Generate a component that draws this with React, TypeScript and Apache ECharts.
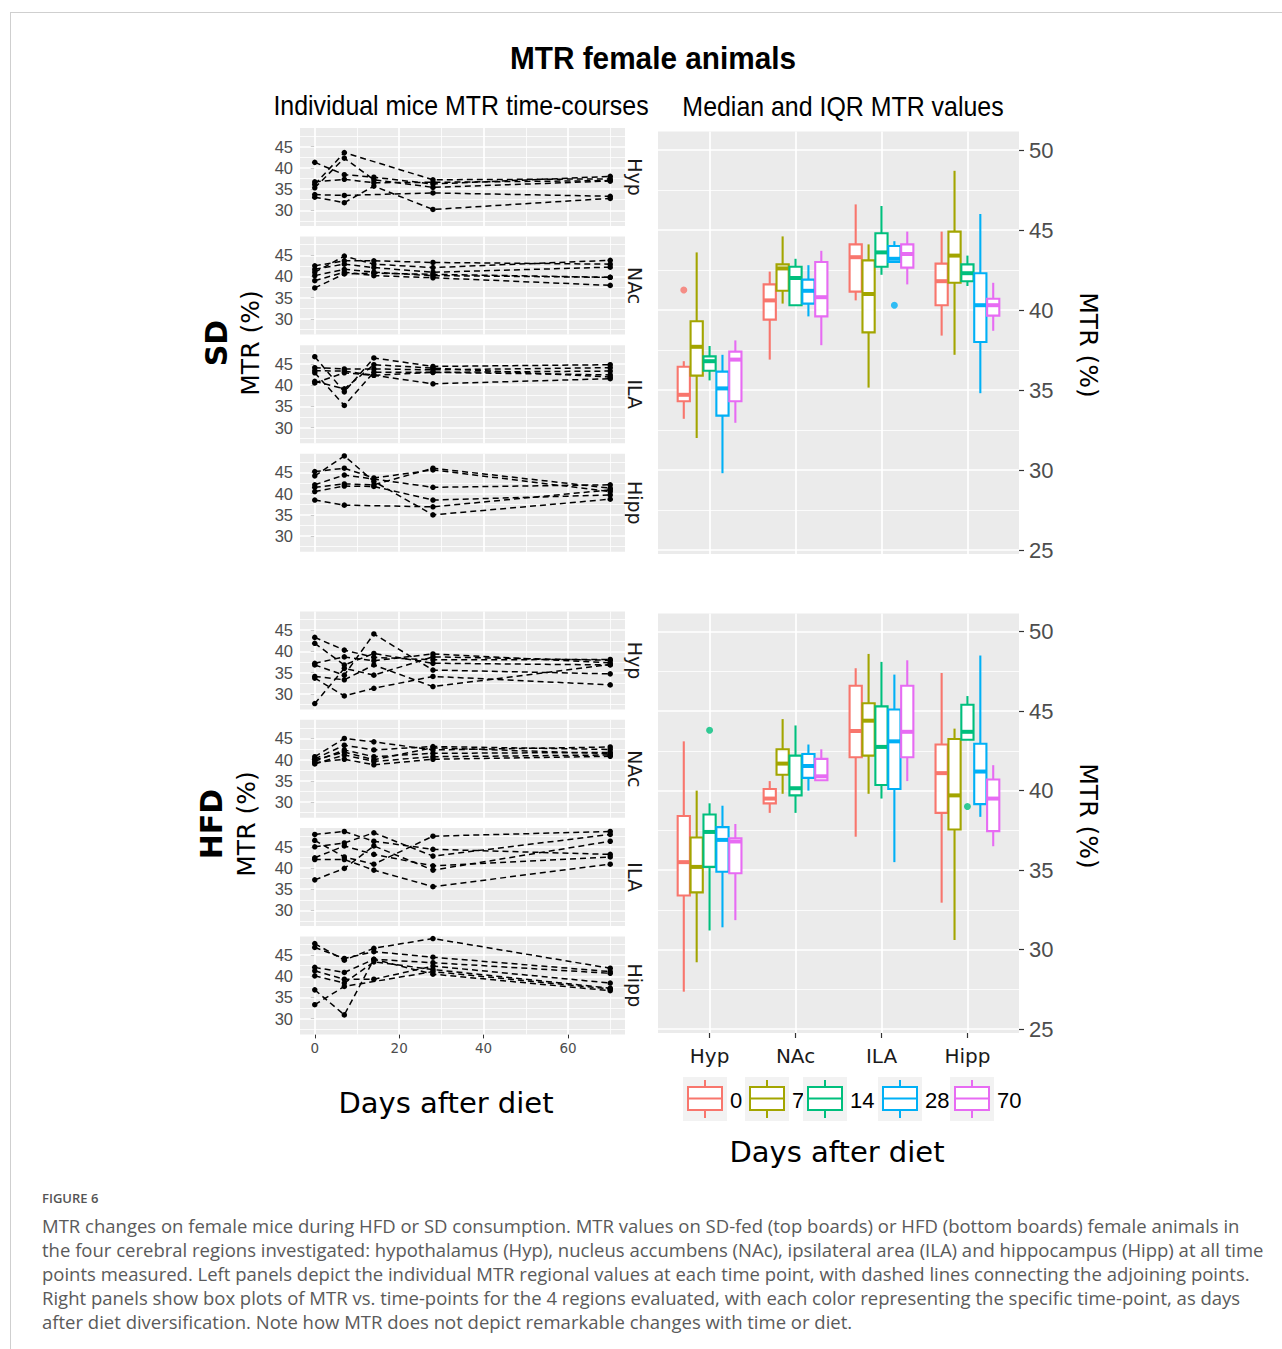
import React, { useEffect, useRef } from 'react';
import * as echarts from 'echarts';

// ---------- data ----------
const DAYS = [0, 7, 14, 28, 70];
const DAY_LABELS = ['0', '7', '14', '28', '70'];
const REGIONS = ['Hyp', 'NAc', 'ILA', 'Hipp'];
const COLORS = ['#F8766D', '#A3A500', '#00BF7D', '#00B0F6', '#E76BF3'];

const LEFT_Y_TICKS = [30, 35, 40, 45];
const LEFT_Y_MINOR = [27.5, 32.5, 37.5, 42.5, 47.5];
const LEFT_X_TICKS = [0, 20, 40, 60];
const LEFT_X_MINOR = [10, 30, 50, 70];
const RIGHT_Y_TICKS = [25, 30, 35, 40, 45, 50];
const RIGHT_Y_MINOR = [27.5, 32.5, 37.5, 42.5, 47.5];
const RIGHT_X_TICKS = [1, 2, 3, 4];

// individual mice, values at days 0,7,14,28,70 (null = not measured)
const SD_HYP = [
  [41.3, 38.4, 37.8, 36.2, 38.0],
  [36.1, 43.6, null, 37.2, 37.4],
  [35.3, 42.3, 37.2, 35.4, 36.9],
  [33.7, 33.5, null, 34.1, 33.3],
  [33.1, 31.8, 35.7, 30.2, 32.8],
  [36.7, 37.3, 36.5, 36.6, 37.0],
];
const SD_NAC = [
  [41.0, 44.8, 42.9, 42.1, 43.8],
  [42.5, 43.7, 43.7, 43.3, 42.9],
  [41.7, 42.9, 42.1, 41.0, 42.2],
  [40.2, 41.7, 41.0, 40.2, 39.8],
  [39.0, 41.0, 40.2, 39.7, 37.9],
  [37.3, 40.6, 40.8, 40.5, 39.8],
];
const SD_ILA = [
  [46.7, 38.4, 46.4, 44.4, 44.8],
  [44.1, 43.8, 43.8, 43.6, 44.1],
  [43.4, 43.3, 42.3, 43.0, 43.3],
  [42.9, 35.2, 43.0, 43.0, 42.4],
  [40.9, 39.1, 44.8, 44.0, 41.9],
  [40.5, 42.9, 42.3, 40.3, 41.5],
];
const SD_HIPP = [
  [44.2, 48.9, 42.9, 35.0, 38.7],
  [45.2, 46.0, 43.7, 45.6, 40.5],
  [42.1, 44.4, null, 41.5, 42.1],
  [41.5, 42.3, 42.1, 46.0, 41.3],
  [40.5, 41.8, 41.7, 38.5, 39.7],
  [38.5, 37.3, null, 36.9, 40.9],
];
const HFD_HYP = [
  [43.3, 40.3, 38.6, 38.0, 38.1],
  [41.9, 36.8, 39.5, 37.2, 36.8],
  [37.2, 38.7, 37.8, 39.4, 37.3],
  [36.8, 34.4, 44.1, 35.6, 34.7],
  [34.1, 33.3, 36.8, 31.7, 36.9],
  [33.7, 29.5, 31.3, 34.1, 32.1],
  [27.7, 36.0, 34.4, 38.7, 37.9],
];
const HFD_NAC = [
  [40.7, 45.0, 44.2, 42.3, 43.0],
  [40.2, 43.4, 42.3, 43.1, 42.4],
  [39.6, 42.3, 40.7, 41.5, 41.7],
  [39.0, 41.1, 39.6, 40.7, 41.1],
  [39.3, 40.1, 38.8, 40.1, 40.8],
  [40.0, 41.8, 40.0, 42.8, 41.4],
];
const HFD_ILA = [
  [47.9, 48.6, 46.3, 44.4, 43.2],
  [46.5, 42.6, 40.9, 47.5, 48.6],
  [45.0, 45.9, 48.3, 42.8, 47.9],
  [42.4, 45.2, 43.2, 40.5, 42.6],
  [42.0, 42.0, 39.5, 35.6, 40.9],
  [37.2, 39.9, 45.2, 39.5, 46.3],
];
const HFD_HIPP = [
  [47.7, 43.8, 46.6, 48.9, 41.9],
  [46.8, 44.2, 45.8, 44.5, 41.1],
  [42.1, 40.9, 44.0, 43.2, 40.7],
  [41.3, 39.3, 39.3, 42.4, 38.4],
  [40.1, 38.4, 43.4, 41.6, 37.2],
  [36.8, 30.9, 44.0, 40.5, 36.6],
  [33.3, 37.6, null, 41.1, 37.0],
];

// box statistics per region, per day: [lower whisker, Q1, median, Q3, upper whisker]
const SD_BOX_HYP = [
  [33.2, 34.3, 34.7, 36.45, 36.8],
  [32.0, 35.9, 37.7, 39.3, 43.6],
  [35.6, 36.2, 36.8, 37.1, 37.75],
  [29.8, 33.4, 35.1, 36.15, 37.2],
  [32.95, 34.3, 36.9, 37.4, 38.1],
];
const SD_BOX_NAC = [
  [36.9, 39.4, 40.6, 41.6, 42.4],
  [40.4, 41.2, 42.6, 42.85, 44.6],
  [40.3, 40.3, 42.0, 42.7, 43.2],
  [39.6, 40.4, 41.2, 41.9, 42.8],
  [37.8, 39.6, 40.8, 43.0, 43.7],
];
const SD_BOX_ILA = [
  [40.6, 41.15, 43.3, 44.1, 46.6],
  [35.15, 38.6, 41.0, 43.1, 44.1],
  [42.2, 42.7, 43.6, 44.8, 46.5],
  [43.0, 43.0, 43.2, 44.0, 44.3],
  [41.6, 42.65, 43.5, 44.1, 44.9],
];
const SD_BOX_HIPP = [
  [38.4, 40.3, 41.8, 42.9, 44.9],
  [37.2, 41.7, 43.4, 44.9, 48.7],
  [41.5, 41.8, 42.3, 42.85, 43.4],
  [34.8, 38.0, 40.3, 42.3, 46.0],
  [38.7, 39.65, 40.3, 40.7, 41.7],
];
const HFD_BOX_HYP = [
  [27.35, 33.4, 35.5, 38.4, 43.1],
  [29.2, 33.6, 35.2, 37.05, 40.0],
  [31.2, 35.2, 37.4, 38.5, 39.2],
  [31.4, 34.9, 36.9, 37.7, 39.05],
  [31.85, 34.8, 36.8, 37.0, 37.9],
];
const HFD_BOX_NAC = [
  [38.6, 39.2, 39.5, 40.1, 40.6],
  [39.8, 41.0, 41.7, 42.6, 44.5],
  [38.6, 39.7, 40.15, 42.2, 44.1],
  [40.0, 40.8, 41.55, 42.3, 42.9],
  [40.65, 40.65, 40.9, 42.0, 42.6],
];
const HFD_BOX_ILA = [
  [37.1, 42.1, 43.75, 46.6, 47.7],
  [39.8, 42.2, 44.4, 45.5, 48.6],
  [39.5, 40.35, 42.75, 45.3, 48.1],
  [35.5, 40.1, 43.1, 45.1, 47.3],
  [40.6, 42.1, 43.7, 46.6, 48.2],
];
const HFD_BOX_HIPP = [
  [32.95, 38.6, 41.1, 42.9, 47.4],
  [30.6, 37.55, 39.7, 43.25, 43.9],
  [43.2, 43.2, 43.7, 45.4, 45.95],
  [38.35, 39.15, 41.2, 42.95, 48.5],
  [36.5, 37.45, 39.5, 40.7, 41.6],
];
// outliers: [region index, day index, value]
const SD_OUTLIERS = [[0, 0, 41.25], [2, 3, 40.3]];
const HFD_OUTLIERS = [[0, 2, 43.8], [3, 2, 39.0]];

const CAPTION_LINES = [
  'MTR changes on female mice during HFD or SD consumption. MTR values on SD-fed (top boards) or HFD (bottom boards) female animals in',
  'the four cerebral regions investigated: hypothalamus (Hyp), nucleus accumbens (NAc), ipsilateral area (ILA) and hippocampus (Hipp) at all time',
  'points measured. Left panels depict the individual MTR regional values at each time point, with dashed lines connecting the adjoining points.',
  'Right panels show box plots of MTR vs. time-points for the 4 regions evaluated, with each color representing the specific time-point, as days',
  'after diet diversification. Note how MTR does not depict remarkable changes with time or diet.',
];

// ---------- layout ----------
const W = 1282;
const H = 1349;
const LEFT_PANEL = { left: 300, width: 325, height: 98 };
const SD_TOPS = [128, 236.6, 345.2, 453.8];
const HFD_TOPS = [611.5, 719.8, 828.1, 936.4];
const LEFT_YRANGE = [26.3, 49.4];
const LEFT_XRANGE = [-3.5, 73.5];
const RIGHT_GRIDS = [
  { left: 658, top: 131.6, width: 361, height: 422.4 },
  { left: 658, top: 613.4, width: 361, height: 419.6 },
];
const RIGHT_YRANGE = [24.75, 51.15];
const RIGHT_XRANGE = [0.4, 4.6];
const DODGE = 0.15;

const TICK_COLOR = '#333333';
const LABEL_GRAY = '#4D4D4D';

function gridMarkLine(xMajor: number[], xMinor: number[], yMajor: number[], yMinor: number[]) {
  const data: any[] = [];
  yMinor.forEach((v) => data.push({ yAxis: v, lineStyle: { width: 0.8 } }));
  xMinor.forEach((v) => data.push({ xAxis: v, lineStyle: { width: 0.8 } }));
  yMajor.forEach((v) => data.push({ yAxis: v, lineStyle: { width: 1.7 } }));
  xMajor.forEach((v) => data.push({ xAxis: v, lineStyle: { width: 1.7 } }));
  return {
    silent: true,
    symbol: ['none', 'none'],
    label: { show: false },
    emphasis: { disabled: true },
    lineStyle: { color: '#FFFFFF', type: 'solid', opacity: 1 },
    z: 1,
    animation: false,
    data,
  };
}

function txt(text: string, x: number, y: number, o: any = {}) {
  return {
    type: 'text',
    x,
    y,
    rotation: o.rotation || 0,
    scaleX: o.scaleX || 1,
    silent: true,
    style: {
      text,
      fill: o.fill || '#000000',
      fontSize: o.fontSize || 16,
      fontFamily: o.fontFamily || 'Liberation Sans',
      fontWeight: o.fontWeight || 'normal',
      align: o.align || 'center',
      textAlign: o.align || 'center',
      verticalAlign: 'middle',
      textVerticalAlign: 'middle',
    },
  };
}

function buildOption() {
  const grids: any[] = [];
  const xAxes: any[] = [];
  const yAxes: any[] = [];
  const series: any[] = [];

  const leftPanels = [SD_HYP, SD_NAC, SD_ILA, SD_HIPP, HFD_HYP, HFD_NAC, HFD_ILA, HFD_HIPP];
  const leftTops = [...SD_TOPS, ...HFD_TOPS];

  leftPanels.forEach((mice, g) => {
    const showX = g === 7;
    grids.push({
      left: LEFT_PANEL.left,
      top: leftTops[g],
      width: LEFT_PANEL.width,
      height: LEFT_PANEL.height,
      show: true,
      backgroundColor: '#EBEBEB',
      borderWidth: 0,
    });
    xAxes.push({
      gridIndex: g,
      type: 'value',
      min: LEFT_XRANGE[0],
      max: LEFT_XRANGE[1],
      axisLine: { show: false },
      splitLine: { show: false },
      axisTick: { show: showX, customValues: LEFT_X_TICKS, length: 4, lineStyle: { color: TICK_COLOR, width: 1 } },
      axisLabel: {
        show: showX,
        customValues: LEFT_X_TICKS,
        color: LABEL_GRAY,
        fontSize: 13.5,
        fontFamily: 'DejaVu Sans',
        margin: 7,
      },
    });
    yAxes.push({
      gridIndex: g,
      type: 'value',
      min: LEFT_YRANGE[0],
      max: LEFT_YRANGE[1],
      axisLine: { show: false },
      splitLine: { show: false },
      axisTick: { show: true, customValues: LEFT_Y_TICKS, length: 4, lineStyle: { color: TICK_COLOR, width: 1 } },
      axisLabel: {
        customValues: LEFT_Y_TICKS,
        color: LABEL_GRAY,
        fontSize: 16.5,
        fontFamily: 'Liberation Sans',
        margin: 7,
      },
    });
    series.push({
      type: 'scatter',
      xAxisIndex: g,
      yAxisIndex: g,
      data: [],
      z: 1,
      silent: true,
      markLine: gridMarkLine(LEFT_X_TICKS, LEFT_X_MINOR, LEFT_Y_TICKS, LEFT_Y_MINOR),
    });
    mice.forEach((vals) => {
      const pts = vals
        .map((v, i) => (v === null ? null : [DAYS[i], v]))
        .filter((p) => p !== null);
      series.push({
        type: 'line',
        xAxisIndex: g,
        yAxisIndex: g,
        data: pts,
        z: 3,
        silent: true,
        symbol: 'circle',
        symbolSize: 5.5,
        showSymbol: true,
        itemStyle: { color: '#000000' },
        lineStyle: { color: '#000000', width: 1.5, type: [6, 4] },
      });
    });
  });

  const boxSets = [
    [SD_BOX_HYP, SD_BOX_NAC, SD_BOX_ILA, SD_BOX_HIPP],
    [HFD_BOX_HYP, HFD_BOX_NAC, HFD_BOX_ILA, HFD_BOX_HIPP],
  ];
  const outlierSets = [SD_OUTLIERS, HFD_OUTLIERS];

  boxSets.forEach((regions, k) => {
    const g = 8 + k;
    const showX = k === 1;
    grids.push({ ...RIGHT_GRIDS[k], show: true, backgroundColor: '#EBEBEB', borderWidth: 0 });
    xAxes.push({
      gridIndex: g,
      type: 'value',
      min: RIGHT_XRANGE[0],
      max: RIGHT_XRANGE[1],
      axisLine: { show: false },
      splitLine: { show: false },
      axisTick: { show: showX, customValues: RIGHT_X_TICKS, length: 5, lineStyle: { color: TICK_COLOR, width: 1.2 } },
      axisLabel: {
        show: showX,
        customValues: RIGHT_X_TICKS,
        formatter: (v: number) => REGIONS[Math.round(v) - 1] || '',
        color: '#1A1A1A',
        fontSize: 20,
        fontFamily: 'DejaVu Sans',
        margin: 13,
      },
    });
    yAxes.push({
      gridIndex: g,
      type: 'value',
      position: 'right',
      min: RIGHT_YRANGE[0],
      max: RIGHT_YRANGE[1],
      axisLine: { show: false },
      splitLine: { show: false },
      axisTick: { show: true, customValues: RIGHT_Y_TICKS, length: 5, lineStyle: { color: TICK_COLOR, width: 1.2 } },
      axisLabel: {
        customValues: RIGHT_Y_TICKS,
        color: LABEL_GRAY,
        fontSize: 22,
        fontFamily: 'Liberation Sans',
        margin: 10,
      },
    });
    series.push({
      type: 'scatter',
      xAxisIndex: g,
      yAxisIndex: g,
      data: [],
      z: 1,
      silent: true,
      markLine: gridMarkLine(RIGHT_X_TICKS, [], RIGHT_Y_TICKS, RIGHT_Y_MINOR),
    });
    const boxData: any[] = [];
    regions.forEach((days, r) => {
      days.forEach((b, d) => {
        boxData.push([r + 1 + (d - 2) * DODGE, b[0], b[1], b[2], b[3], b[4], d]);
      });
    });
    series.push({
      type: 'custom',
      xAxisIndex: g,
      yAxisIndex: g,
      z: 3,
      silent: true,
      encode: { x: 0, y: [1, 2, 3, 4, 5] },
      data: boxData,
      renderItem: (params: any, api: any) => {
        const xc = api.value(0);
        const lo = api.value(1);
        const q1 = api.value(2);
        const md = api.value(3);
        const q3 = api.value(4);
        const hi = api.value(5);
        const c = COLORS[api.value(6)];
        const half = DODGE / 2 - 0.004;
        const pL = api.coord([xc - half, q3]);
        const pR = api.coord([xc + half, q1]);
        const pHi = api.coord([xc, hi]);
        const pLo = api.coord([xc, lo]);
        const pMd = api.coord([xc, md]);
        const cx = pHi[0];
        return {
          type: 'group',
          children: [
            { type: 'line', shape: { x1: cx, y1: pHi[1], x2: cx, y2: pL[1] }, style: { stroke: c, lineWidth: 2.1 } },
            { type: 'line', shape: { x1: cx, y1: pR[1], x2: cx, y2: pLo[1] }, style: { stroke: c, lineWidth: 2.1 } },
            {
              type: 'rect',
              shape: { x: pL[0], y: pL[1], width: pR[0] - pL[0], height: pR[1] - pL[1] },
              style: { fill: '#FFFFFF', stroke: c, lineWidth: 2.1 },
            },
            { type: 'line', shape: { x1: pL[0], y1: pMd[1], x2: pR[0], y2: pMd[1] }, style: { stroke: c, lineWidth: 4 } },
          ],
        };
      },
    });
    series.push({
      type: 'scatter',
      xAxisIndex: g,
      yAxisIndex: g,
      z: 4,
      silent: true,
      symbolSize: 7,
      data: outlierSets[k].map((o) => ({
        value: [o[0] + 1 + (o[1] - 2) * DODGE, o[2]],
        itemStyle: { color: COLORS[o[1]] },
      })),
    });
  });

  // ---------- annotations ----------
  const graphics: any[] = [];
  graphics.push({ type: 'line', silent: true, shape: { x1: 10, y1: 12.5, x2: W, y2: 12.5 }, style: { stroke: '#CFCFCF', lineWidth: 1 } });
  graphics.push({ type: 'line', silent: true, shape: { x1: 10.5, y1: 12, x2: 10.5, y2: H }, style: { stroke: '#CFCFCF', lineWidth: 1 } });

  graphics.push(txt('MTR female animals', 653, 58, { fontSize: 32, fontWeight: 'bold', scaleX: 0.93 }));
  graphics.push(txt('Individual mice MTR time-courses', 461, 105, { fontSize: 28, scaleX: 0.89 }));
  graphics.push(txt('Median and IQR MTR values', 843, 106, { fontSize: 28, scaleX: 0.89 }));

  graphics.push(txt('SD', 216, 343, { fontSize: 30, fontWeight: 'bold', fontFamily: 'DejaVu Sans', rotation: Math.PI / 2 }));
  graphics.push(txt('MTR (%)', 250, 343, { fontSize: 25, fontFamily: 'DejaVu Sans', rotation: Math.PI / 2 }));
  graphics.push(txt('HFD', 211, 824, { fontSize: 30, fontWeight: 'bold', fontFamily: 'DejaVu Sans', rotation: Math.PI / 2 }));
  graphics.push(txt('MTR (%)', 246, 824, { fontSize: 25, fontFamily: 'DejaVu Sans', rotation: Math.PI / 2 }));
  graphics.push(txt('MTR (%)', 1088, 345, { fontSize: 25, fontFamily: 'DejaVu Sans', rotation: -Math.PI / 2 }));
  graphics.push(txt('MTR (%)', 1088, 816, { fontSize: 25, fontFamily: 'DejaVu Sans', rotation: -Math.PI / 2 }));

  leftTops.forEach((t, i) => {
    graphics.push(txt(REGIONS[i % 4], 635, t + LEFT_PANEL.height / 2, { fontSize: 19, fontFamily: 'DejaVu Sans', fill: '#1A1A1A', rotation: -Math.PI / 2 }));
  });

  graphics.push(txt('Days after diet', 446, 1103, { fontSize: 29, fontFamily: 'DejaVu Sans' }));
  graphics.push(txt('Days after diet', 837, 1152, { fontSize: 29, fontFamily: 'DejaVu Sans' }));

  // legend
  const keyX = [683, 745, 803, 878, 950];
  const keyY = 1077;
  DAY_LABELS.forEach((lab, i) => {
    const x = keyX[i];
    const c = COLORS[i];
    graphics.push({ type: 'rect', silent: true, shape: { x, y: keyY, width: 44, height: 44 }, style: { fill: '#F2F2F2' } });
    graphics.push({ type: 'line', silent: true, shape: { x1: x + 22, y1: keyY + 3, x2: x + 22, y2: keyY + 10 }, style: { stroke: c, lineWidth: 2 } });
    graphics.push({ type: 'line', silent: true, shape: { x1: x + 22, y1: keyY + 33, x2: x + 22, y2: keyY + 41 }, style: { stroke: c, lineWidth: 2 } });
    graphics.push({ type: 'rect', silent: true, shape: { x: x + 5, y: keyY + 10, width: 34, height: 23 }, style: { fill: '#FFFFFF', stroke: c, lineWidth: 2 } });
    graphics.push({ type: 'line', silent: true, shape: { x1: x + 5, y1: keyY + 21.5, x2: x + 39, y2: keyY + 21.5 }, style: { stroke: c, lineWidth: 2 } });
    graphics.push(txt(lab, x + 47, keyY + 23, { fontSize: 22, align: 'left' }));
  });

  // caption
  graphics.push(txt('FIGURE 6', 42, 1198, { fontSize: 13, fontFamily: 'Open Sans', fontWeight: 600, fill: '#555555', align: 'left' }));
  CAPTION_LINES.forEach((line, i) => {
    graphics.push(txt(line, 42, 1225 + i * 24, { fontSize: 18.5, fontFamily: 'Open Sans', fill: '#5A5A5A', align: 'left', scaleX: 1.0 }));
  });

  return {
    animation: false,
    backgroundColor: '#FFFFFF',
    grid: grids,
    xAxis: xAxes,
    yAxis: yAxes,
    series,
    graphic: { elements: graphics },
  };
}

export default function App() {
  const ref = useRef<HTMLDivElement>(null);
  useEffect(() => {
    if (!ref.current) return;
    const chart = echarts.init(ref.current, null, { renderer: 'svg', width: W, height: H });
    chart.setOption(buildOption() as any);
    return () => chart.dispose();
  }, []);
  return (
    <div
      ref={ref}
      style={{ position: 'absolute', left: 0, top: 0, width: W, height: H, background: '#FFFFFF' }}
    />
  );
}
